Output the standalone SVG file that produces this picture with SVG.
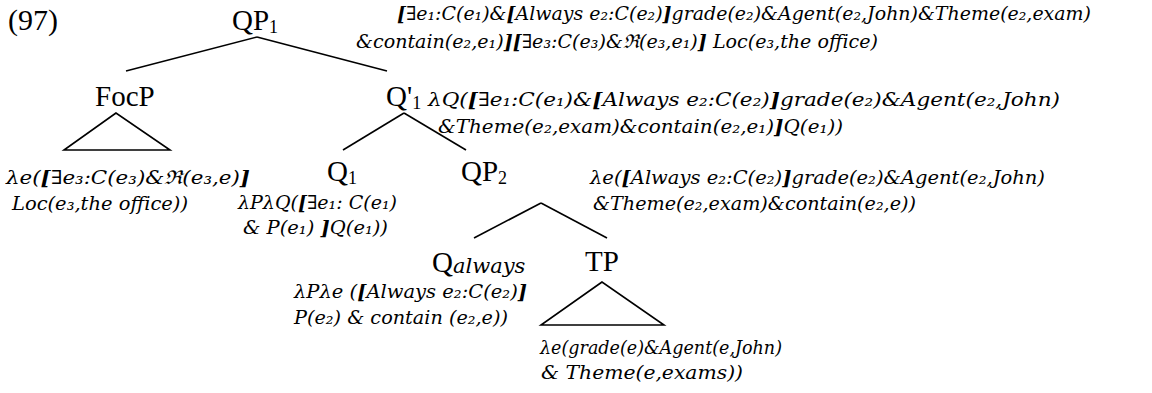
<svg xmlns="http://www.w3.org/2000/svg" width="1152" height="393" viewBox="0 0 1152 393">
<style>
.n{font-family:"Liberation Serif","Times New Roman",serif;font-size:29px;fill:#000}
.sub{font-size:18px}
.f{font-family:"DejaVu Serif",Georgia,serif;font-style:italic;font-size:19px;fill:#000}
.b{font-weight:bold}
.e{stroke:#000;stroke-width:1.6;fill:none}
</style>
<rect width="1152" height="393" fill="#fff"/>
<g id="connectors">
<line class="e" x1="257" y1="37" x2="126" y2="71"/>
<line class="e" x1="257" y1="37" x2="387" y2="71"/>
<line class="e" x1="404" y1="113" x2="343" y2="150"/>
<line class="e" x1="404" y1="113" x2="466" y2="150"/>
<line class="e" x1="541" y1="203" x2="474" y2="238"/>
<line class="e" x1="541" y1="203" x2="607" y2="238"/>
</g>
<g id="label97"><text class="n" x="8" y="30" style="font-size:30px">(97)</text></g>
<g id="QP1">
<text class="n" x="232" y="30">QP<tspan class="sub" dy="3">1</tspan></text>
<text class="f" x="397" y="20" textLength="694" lengthAdjust="spacingAndGlyphs"><tspan class="b">[</tspan>∃e₁:C(e₁)&amp;<tspan class="b">[</tspan>Always e₂:C(e₂)<tspan class="b">]</tspan>grade(e₂)&amp;Agent(e₂,John)&amp;Theme(e₂,exam)</text>
<text class="f" x="356" y="48" textLength="522" lengthAdjust="spacingAndGlyphs">&amp;contain(e₂,e₁)<tspan class="b">][</tspan>∃e₃:C(e₃)&amp;ℜ(e₃,e₁)<tspan class="b">]</tspan> Loc(e₃,the office)</text>
</g>
<g id="FocP">
<text class="n" x="95" y="106">FocP</text>
<polygon class="e" points="116,113 64,150 170,150"/>
<text class="f" x="6" y="184" textLength="244" lengthAdjust="spacingAndGlyphs">λe(<tspan class="b">[</tspan>∃e₃:C(e₃)&amp;ℜ(e₃,e)<tspan class="b">]</tspan></text>
<text class="f" x="12" y="210" textLength="176" lengthAdjust="spacingAndGlyphs">Loc(e₃,the office))</text>
</g>
<g id="Qbar1">
<text class="n" x="386" y="106">Q'<tspan class="sub" dy="3">1</tspan></text>
<text class="f" x="428" y="106" textLength="632" lengthAdjust="spacingAndGlyphs">λQ(<tspan class="b">[</tspan>∃e₁:C(e₁)&amp;<tspan class="b">[</tspan>Always e₂:C(e₂)<tspan class="b">]</tspan>grade(e₂)&amp;Agent(e₂,John)</text>
<text class="f" x="438" y="133" textLength="405" lengthAdjust="spacingAndGlyphs">&amp;Theme(e₂,exam)&amp;contain(e₂,e₁)<tspan class="b">]</tspan>Q(e₁))</text>
</g>
<g id="Q1">
<text class="n" x="327" y="181">Q<tspan class="sub" dy="3">1</tspan></text>
<text class="f" x="238" y="209" textLength="159" lengthAdjust="spacingAndGlyphs">λPλQ(<tspan class="b">[</tspan>∃e₁: C(e₁)</text>
<text class="f" x="243" y="234" textLength="145" lengthAdjust="spacingAndGlyphs">&amp; P(e₁) <tspan class="b">]</tspan>Q(e₁))</text>
</g>
<g id="QP2">
<text class="n" x="461" y="181">QP<tspan class="sub" dy="3">2</tspan></text>
<text class="f" x="590" y="184" textLength="455" lengthAdjust="spacingAndGlyphs">λe(<tspan class="b">[</tspan>Always e₂:C(e₂)<tspan class="b">]</tspan>grade(e₂)&amp;Agent(e₂,John)</text>
<text class="f" x="593" y="210" textLength="323" lengthAdjust="spacingAndGlyphs">&amp;Theme(e₂,exam)&amp;contain(e₂,e))</text>
</g>
<g id="Qalways">
<text class="n" x="432" y="272">Q<tspan class="f" style="font-size:21px" dy="1">always</tspan></text>
<text class="f" x="294" y="298" textLength="233" lengthAdjust="spacingAndGlyphs">λPλe (<tspan class="b">[</tspan>Always e₂:C(e₂)<tspan class="b">]</tspan></text>
<text class="f" x="294" y="324" textLength="214" lengthAdjust="spacingAndGlyphs">P(e₂) &amp; contain (e₂,e))</text>
</g>
<g id="TP">
<text class="n" x="585" y="271">TP</text>
<polygon class="e" points="602,282 541,325 664,325"/>
<text class="f" x="540" y="354" textLength="242" lengthAdjust="spacingAndGlyphs">λe(grade(e)&amp;Agent(e,John)</text>
<text class="f" x="541" y="379" textLength="202" lengthAdjust="spacingAndGlyphs">&amp; Theme(e,exams))</text>
</g>
</svg>
